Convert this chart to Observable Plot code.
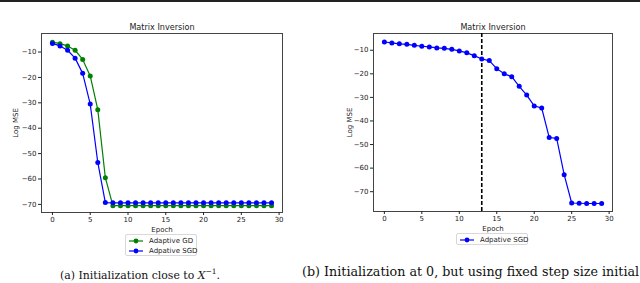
<!DOCTYPE html>
<html><head><meta charset="utf-8">
<script src="https://cdn.jsdelivr.net/npm/d3@7"></script>
<script src="https://cdn.jsdelivr.net/npm/@observablehq/plot@0.6"></script>
<style>
html,body{margin:0;padding:0;background:#fff;overflow:hidden}
#fig{position:relative;width:640px;height:283px;overflow:hidden;font-family:"DejaVu Sans",sans-serif;background:#fff}
.rule{position:absolute;left:0;top:0;width:640px;height:2px;background:#222}
.panel{position:absolute;top:0;width:320px;height:240px}
.legend{position:absolute;border:1px solid #d8d8d8;border-radius:2px;background:#fff;font-size:7px;color:#222;box-sizing:border-box}
.entry{position:absolute;left:0;display:flex;align-items:center;white-space:nowrap}
.entry svg{margin-right:5px}
.cap{position:absolute;font-family:"DejaVu Serif",serif;white-space:nowrap;color:#111;line-height:1}
</style></head>
<body>
<div id="fig">
  <div class="rule"></div>
  <div class="panel" id="left" style="left:0"></div>
  <div class="panel" id="right" style="left:320px"></div>
  <div class="legend" id="legL" style="left:125px;top:234px;width:72px;height:22px"></div>
  <div class="legend" id="legR" style="left:456px;top:233px;width:72px;height:12px"></div>
  <div class="cap" style="left:60px;top:268px;font-size:10.9px">(a) Initialization close to <i>X</i><sup style="font-size:7.5px">−1</sup>.</div>
  <div class="cap" style="left:302px;top:266px;font-size:12.7px">(b) Initialization at 0, but using fixed step size initial</div>
</div>
<script>
// ---- data ----
const epochs = [0,1,2,3,4,5,6,7,8,9,10,11,12,13,14,15,16,17,18,19,20,21,22,23,24,25,26,27,28,29];
const leftGD = [-6.1,-6.7,-7.6,-9.3,-12.9,-19.4,-32.7,-59.5,-70.5,-70.5,-70.5,-70.5,-70.5,-70.5,-70.5,-70.5,-70.5,-70.5,-70.5,-70.5,-70.5,-70.5,-70.5,-70.5,-70.5,-70.5,-70.5,-70.5,-70.5,-70.5];
const leftSGD = [-6.6,-7.6,-9.3,-12.4,-18.4,-30.5,-53.5,-69.3,-69.4,-69.4,-69.4,-69.4,-69.4,-69.4,-69.4,-69.4,-69.4,-69.4,-69.4,-69.4,-69.4,-69.4,-69.4,-69.4,-69.4,-69.4,-69.4,-69.4,-69.4,-69.4];
const rightSGD = [-6.5,-6.9,-7.3,-7.5,-7.9,-8.3,-8.6,-9.0,-9.2,-9.6,-10.3,-11.1,-12.3,-13.7,-14.4,-17.8,-20.0,-21.2,-25.3,-29.0,-33.6,-34.5,-47.0,-47.4,-62.8,-74.8,-74.9,-75.0,-75.0,-75.0];
const vlineRight = [13];
const xTicks = [0,5,10,15,20,25,30];
const yTicks = [-10,-20,-30,-40,-50,-60,-70];
const titleText = "Matrix Inversion";
const xLabel = "Epoch";
const yLabel = "Log MSE";
const nameGD = "Adaptive GD";
const nameSGD = "Adpative SGD";
const colGD = "#008000";
const colSGD = "#0000ff";

const fmt = d => d < 0 ? "\u2212" + (-d) : String(d);
const rows = vals => epochs.map((e, i) => ({epoch: e, value: vals[i]}));

function panel({series, yDomain, marginLeft, marginRight, marginBottom, vline, ylabDx}) {
  const marks = [Plot.frame({stroke: "#444", strokeWidth: 1})];
  if (vline) marks.push(Plot.ruleX(vline, {stroke: "#000", strokeWidth: 1.6, strokeDasharray: "4,2"}));
  for (const s of series) {
    const d = rows(s.values);
    marks.push(Plot.line(d, {x: "epoch", y: "value", stroke: s.color, strokeWidth: 1.2}));
    marks.push(Plot.dot(d, {x: "epoch", y: "value", fill: s.color, r: 2.5}));
  }
  marks.push(Plot.text([titleText], {text: d => d, frameAnchor: "top", lineAnchor: "middle", textAnchor: "middle", dy: -6, fontSize: 8.1, fill: "#222"}));
  marks.push(Plot.text([xLabel], {text: d => d, frameAnchor: "bottom", lineAnchor: "middle", textAnchor: "middle", dy: 17, fontSize: 7, fill: "#222"}));
  marks.push(Plot.text([yLabel], {text: d => d, frameAnchor: "left", lineAnchor: "middle", textAnchor: "middle", dx: ylabDx, rotate: -90, fontSize: 7, fill: "#222"}));
  marks.push(Plot.axisX({ticks: xTicks, tickSize: 3, tickPadding: 2, label: null, tickFormat: fmt}));
  marks.push(Plot.axisY({ticks: yTicks, tickSize: 3, tickPadding: 2, label: null, tickFormat: fmt}));
  return Plot.plot({
    width: 320, height: 240,
    marginTop: 33, marginLeft, marginRight, marginBottom,
    style: {fontFamily: "DejaVu Sans", fontSize: "7px", color: "#222", background: "transparent"},
    x: {domain: [-1.45, 30.45]},
    y: {domain: yDomain},
    marks
  });
}

document.getElementById("left").appendChild(panel({
  series: [{values: leftGD, color: colGD}, {values: leftSGD, color: colSGD}],
  yDomain: [-73.2, -2.7], marginLeft: 41, marginRight: 38, marginBottom: 28, ylabDx: -26
}));
document.getElementById("right").appendChild(panel({
  series: [{values: rightSGD, color: colSGD}],
  yDomain: [-78.4, -2.9], marginLeft: 53, marginRight: 28, marginBottom: 29, vline: vlineRight, ylabDx: -24
}));

function legend(el, items) {
  items.forEach((it, i) => {
    const div = document.createElement("div");
    div.className = "entry";
    div.style.top = (i * 10 + 1) + "px";
    div.style.left = "2px";
    div.style.height = "10px";
    div.innerHTML = `<svg width="16" height="8"><line x1="1" y1="4" x2="15" y2="4" stroke="${it.color}" stroke-width="1.2"/><circle cx="8" cy="4" r="2.4" fill="${it.color}"/></svg><span>${it.name}</span>`;
    el.appendChild(div);
  });
}
legend(document.getElementById("legL"), [{name: nameGD, color: colGD}, {name: nameSGD, color: colSGD}]);
legend(document.getElementById("legR"), [{name: nameSGD, color: colSGD}]);
</script>
</body></html>
